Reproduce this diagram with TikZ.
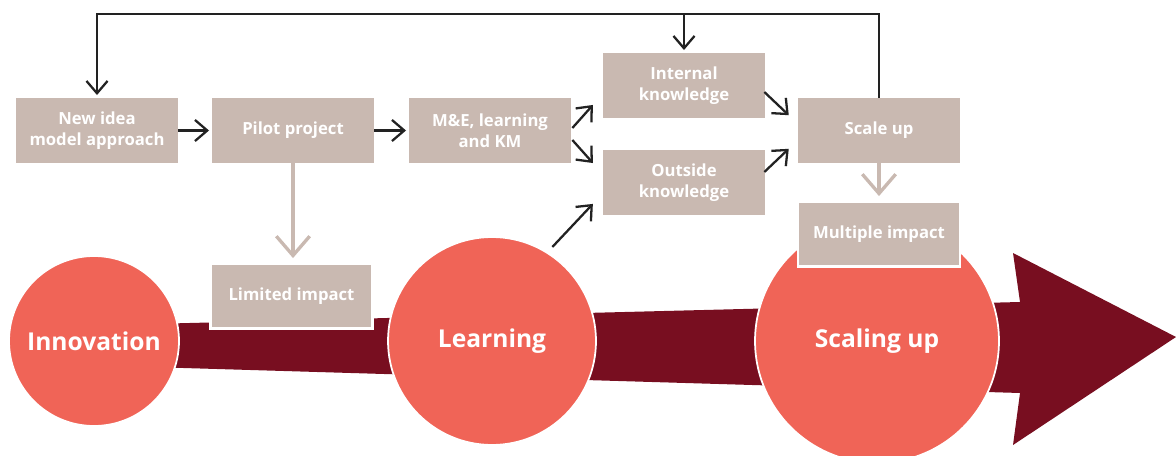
\documentclass[tikz,border=0pt]{standalone}
\usepackage{fontspec}
\setmainfont{Open Sans}
\usepackage{tikz}
\usetikzlibrary{arrows.meta, calc}
\definecolor{boxgrey}{HTML}{C9B9B1}
\definecolor{salmon}{HTML}{F06457}
\definecolor{maroon}{HTML}{780E20}
\definecolor{darkline}{HTML}{222222}
\tikzset{stage/.style={rectangle,fill=boxgrey,text=white,align=center,
    font=\bfseries\fontsize{9.5}{12}\selectfont,
    minimum width=3.24cm,minimum height=1.3cm,inner sep=0pt},
    impact/.style={stage,draw=white,line width=1.2pt},
    phase/.style={circle,fill=salmon,draw=white,line width=1pt,text=white,
    font=\bfseries\fontsize{14}{16}\selectfont,inner sep=0pt},
    flow/.style={draw=darkline,line width=1.3pt,shorten >=1.5pt,
    -{Straight Barb[length=7pt,width=12pt]}},
    result/.style={draw=boxgrey,line width=1.9pt,shorten >=2.5pt,
    -{Straight Barb[length=11pt,width=19pt]}}}

\begin{document}
\begin{tikzpicture}[x=0.02cm,y=-0.02cm]

% Fix the frame
\clip (0,0) rectangle (1176,456);

% Draw the big arrow behind the stages
\fill[maroon] (150,324) -- (1020,302) -- (1013,253) -- (1176,337) -- (1013,445) -- (1020,393) -- (150,367) -- cycle;

% Draw the three stages
\node[phase, minimum size=3.4cm] (innovation) at (94,341) {Innovation};
\node[phase, minimum size=4.16cm] (learning) at (492,341) {Learning};
\node[phase, minimum size=4.88cm] (scaling) at (877,341) {Scaling up};

% Impact boxes sit on top of the arrow
\node[impact] (limited) at (291.5,296) {Limited impact};
\node[impact] (multiple) at (879,234) {Multiple impact};

% The process boxes
\node[stage] (newidea) at (97,130.5) {New idea\\model approach};
\node[stage] (pilot) at (293,130.5) {Pilot project};
\node[stage] (mel) at (490,130.5) {M\&E, learning\\and KM};
\node[stage] (internal) at (684,85.5) {Internal\\knowledge};
\node[stage] (outside) at (684,182.5) {Outside\\knowledge};
\node[stage] (scaleup) at (879,130.5) {Scale up};

% Connect the boxes
\draw[flow] (newidea) -- (pilot);
\draw[flow] (pilot) -- (mel);
\draw[flow] ($(mel.east)+(1,-2.5)$) -- ($(internal.west)+(-8,17.5)$);
\draw[flow] ($(mel.east)+(1,9.5)$) -- ($(outside.west)+(-8,-17.5)$);
\draw[flow] ($(internal.east)+(-1,6.5)$) -- ($(scaleup.west)+(-7,-13.5)$);
\draw[flow] ($(outside.east)+(-1,-10.5)$) -- ($(scaleup.west)+(-7,16.5)$);
\draw[flow, shorten <=4pt] (learning.58) -- ($(outside.west)+(-8,19.5)$);

% Feedback loop over the top
\coordinate (loop) at (879,14);
\draw[flow] (scaleup.north) -- (loop) -| (newidea.north);
\draw[flow] (internal.north |- loop) -- (internal.north);

% Impact arrows
\draw[result] (pilot.south) -- (pilot.south |- limited.north);
\draw[result] (scaleup) -- (multiple);
\end{tikzpicture}
\end{document}
